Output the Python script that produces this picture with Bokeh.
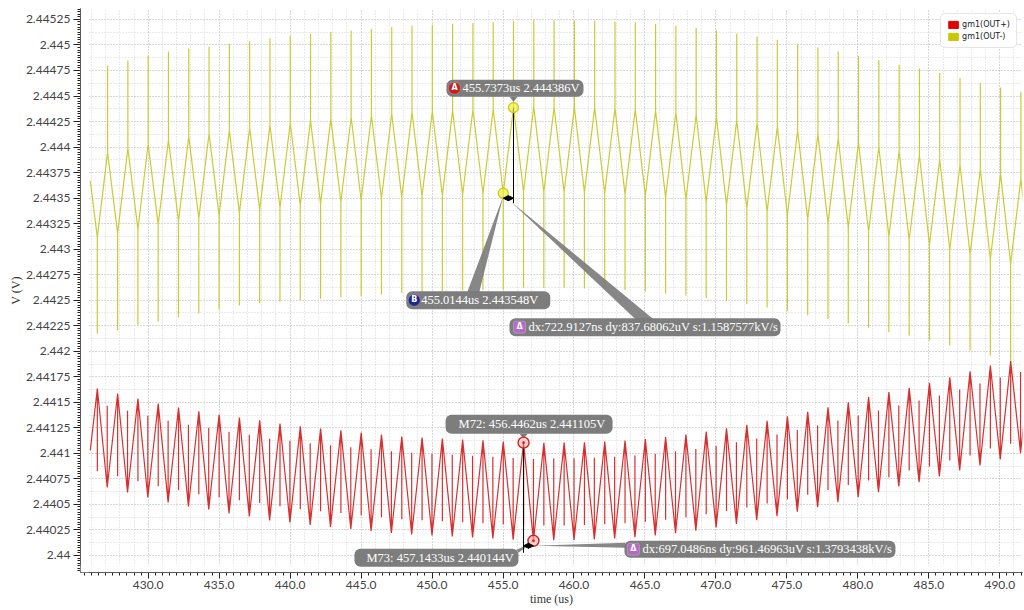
from bokeh.plotting import figure
from bokeh.models import (Range1d, SingleIntervalTicker, Grid, Label, BoxAnnotation,
                          Legend, LegendItem, CustomJSTickFormatter, Arrow, NormalHead)
from bokeh.embed import file_html
from bokeh.resources import INLINE

# ---------------------------------------------------------------- data
BASE_V = 2.44          # levels below are stored in mV above this
PERIOD_US = 1.43       # clock period of the chopper

# cursor readouts
A_T, A_V = 455.7373, 2.444386
B_T, B_V = 455.0144, 2.443548
M72_T, M72_V = 456.4462, 2.441105
M73_T, M73_V = 457.1433, 2.440144

# gm1(OUT-) : first sample, then per clock cycle the low cusp / its glitch tip,
# the high cusp / its glitch tip (mV above 2.44 V)
outn_start = (425.92, 3.67)
outn_low_mv = [3.115, 3.157, 3.198, 3.240, 3.273, 3.302, 3.331, 3.356, 3.385, 3.406,
               3.429, 3.446, 3.462, 3.479, 3.496, 3.510, 3.519, 3.527, 3.535, 3.543,
               3.548, 3.563, 3.560, 3.559, 3.556, 3.549, 3.539, 3.525, 3.507, 3.486,
               3.461, 3.433, 3.402, 3.368, 3.332, 3.294, 3.255, 3.213, 3.171, 3.126,
               3.090, 3.045, 2.997, 2.951, 2.903, 2.859, 2.818]
outn_low_tip_mv = [2.175, 2.204, 2.263, 2.292, 2.331, 2.370, 2.409, 2.449, 2.470, 2.485,
                   2.500, 2.515, 2.528, 2.541, 2.556, 2.570, 2.579, 2.587, 2.595, 2.603,
                   2.608, 2.623, 2.620, 2.619, 2.616, 2.609, 2.599, 2.585, 2.567, 2.546,
                   2.521, 2.493, 2.462, 2.428, 2.392, 2.354, 2.315, 2.273, 2.231, 2.186,
                   2.155, 2.106, 2.057, 2.008, 1.959, 1.893, 1.850]
outn_high_mv = [3.945, 3.987, 4.028, 4.070, 4.103, 4.132, 4.161, 4.186, 4.215, 4.236,
                4.259, 4.276, 4.292, 4.309, 4.326, 4.340, 4.349, 4.357, 4.365, 4.373,
                4.386, 4.393, 4.390, 4.389, 4.386, 4.379, 4.369, 4.355, 4.337, 4.316,
                4.291, 4.263, 4.232, 4.198, 4.162, 4.124, 4.085, 4.043, 4.001, 3.956,
                3.920, 3.875, 3.827, 3.781, 3.733, 3.689]
outn_high_tip_mv = [4.799, 4.848, 4.897, 4.936, 4.966, 4.982, 5.011, 5.036, 5.065, 5.086,
                    5.109, 5.126, 5.142, 5.159, 5.176, 5.190, 5.199, 5.207, 5.215, 5.223,
                    5.236, 5.243, 5.240, 5.239, 5.236, 5.229, 5.219, 5.205, 5.187, 5.166,
                    5.141, 5.113, 5.082, 5.048, 5.012, 4.974, 4.935, 4.893, 4.851, 4.806,
                    4.770, 4.725, 4.677, 4.631, 4.583, 4.539]

# gm1(OUT+) : peak / glitch tip, trough / glitch tip (mV above 2.44 V)
outp_start = (425.92, 1.03)
outp_peak_mv = [1.636, 1.587, 1.538, 1.489, 1.450, 1.411, 1.381, 1.352, 1.323, 1.293,
                1.264, 1.244, 1.225, 1.205, 1.185, 1.166, 1.156, 1.146, 1.136, 1.127,
                1.117, 1.105, 1.104, 1.105, 1.108, 1.115, 1.126, 1.141, 1.161, 1.185,
                1.213, 1.245, 1.281, 1.320, 1.362, 1.406, 1.452, 1.500, 1.551, 1.600,
                1.643, 1.692, 1.746, 1.805, 1.861, 1.903, 1.949]
outp_peak_tip_mv = [0.826, 0.777, 0.728, 0.679, 0.640, 0.601, 0.571, 0.542, 0.513, 0.483,
                    0.454, 0.434, 0.415, 0.395, 0.375, 0.356, 0.346, 0.336, 0.326, 0.317,
                    0.307, 0.295, 0.294, 0.295, 0.298, 0.305, 0.316, 0.331, 0.351, 0.375,
                    0.403, 0.435, 0.471, 0.510, 0.552, 0.596, 0.642, 0.690, 0.735, 0.767,
                    0.833, 0.872, 0.931, 0.980, 1.048, 1.094, 1.139]
outp_trough_mv = [0.666, 0.617, 0.568, 0.519, 0.480, 0.451, 0.412, 0.382, 0.343, 0.324,
                  0.299, 0.280, 0.260, 0.240, 0.221, 0.206, 0.196, 0.186, 0.177, 0.167,
                  0.156, 0.144, 0.150, 0.152, 0.157, 0.166, 0.179, 0.196, 0.218, 0.244,
                  0.274, 0.308, 0.346, 0.386, 0.429, 0.474, 0.521, 0.571, 0.620, 0.676,
                  0.718, 0.774, 0.833, 0.882, 0.940, 1.002]
outp_trough_tip_mv = [1.466, 1.417, 1.368, 1.319, 1.280, 1.251, 1.212, 1.182, 1.143, 1.124,
                      1.099, 1.080, 1.060, 1.040, 1.021, 1.006, 0.996, 0.986, 0.977, 0.967,
                      0.956, 0.944, 0.950, 0.952, 0.957, 0.966, 0.979, 0.996, 1.018, 1.044,
                      1.074, 1.108, 1.146, 1.186, 1.229, 1.274, 1.321, 1.371, 1.420, 1.469,
                      1.518, 1.567, 1.626, 1.685, 1.744, 1.796]

X_TICK_US = 5.0
Y_TICK_V = 0.00025

# ---------------------------------------------------------------- sampling instants
outn_low_t = [B_T + PERIOD_US * k for k in range(-20, 27)]
outn_high_t = [A_T + PERIOD_US * k for k in range(-20, 26)]
outp_peak_t = [M72_T + PERIOD_US * k for k in range(-21, 26)]
outp_trough_t = [M73_T + PERIOD_US * k for k in range(-21, 25)]


def to_volts(mv):
    return BASE_V + mv / 1000.0


def trace(start, t1, v1, tip1, t2, v2, tip2):
    """Cusp, glitch and return for every half cycle, alternating phases."""
    xs, ys = [start[0]], [to_volts(start[1])]
    for i in range(len(v1)):
        xs += [t1[i]] * 3
        ys += [to_volts(v1[i]), to_volts(tip1[i]), to_volts(v1[i])]
        if i < len(v2):
            xs += [t2[i]] * 3
            ys += [to_volts(v2[i]), to_volts(tip2[i]), to_volts(v2[i])]
    return xs, ys


outn_x, outn_y = trace(outn_start, outn_low_t, outn_low_mv, outn_low_tip_mv,
                       outn_high_t, outn_high_mv, outn_high_tip_mv)
outp_x, outp_y = trace(outp_start, outp_peak_t, outp_peak_mv, outp_peak_tip_mv,
                       outp_trough_t, outp_trough_mv, outp_trough_tip_mv)

# ---------------------------------------------------------------- figure
W, H = 1024, 610
FL, FR, FT, FB = 80, 1022, 8, 572
X0, X1 = 425.230, 491.600
Y0, Y1 = 2.4398335, 2.445357

p = figure(width=W, height=H, output_backend="svg", toolbar_location=None,
           x_range=Range1d(X0, X1), y_range=Range1d(Y0, Y1),
           min_border_left=FL, min_border_right=W - FR,
           min_border_top=FT, min_border_bottom=H - FB,
           background_fill_color="white", border_fill_color="white")
p.outline_line_color = None


def ux(px):
    return px * (X1 - X0) / (FR - FL)


def uy(px):
    return px * (Y1 - Y0) / (FB - FT)


# axes
p.xaxis.ticker = SingleIntervalTicker(interval=X_TICK_US, num_minor_ticks=10)
p.yaxis.ticker = SingleIntervalTicker(interval=Y_TICK_V, num_minor_ticks=10)
p.xaxis.formatter = CustomJSTickFormatter(code="return tick.toFixed(1);")
p.yaxis.formatter = CustomJSTickFormatter(
    code="return (Math.round(tick * 1e5) / 1e5).toString();")
for ax in (p.xaxis[0], p.yaxis[0]):
    ax.axis_line_color = "#222222"
    ax.major_tick_line_color = "#222222"
    ax.minor_tick_line_color = "#222222"
    ax.major_tick_in = 0
    ax.minor_tick_in = 0
    ax.minor_tick_out = 3
    ax.major_label_text_font = "Lato"
    ax.major_label_text_font_size = "12px"
    ax.major_label_text_color = "#444444"
    ax.axis_label_text_font = "Liberation Serif"
    ax.axis_label_text_font_size = "12px"
    ax.axis_label_text_font_style = "normal"
    ax.axis_label_text_color = "#333333"
p.xaxis.major_tick_out = 6
p.yaxis.major_tick_out = 7
p.xaxis.major_label_standoff = 2
p.yaxis.major_label_standoff = 3
p.xaxis.axis_label_standoff = 0
p.yaxis.axis_label_standoff = 0
p.xaxis.axis_label = "time (us)"
p.yaxis.axis_label = "V (V)"

# dotted grid: fine every 1 us / 0.125 mV, stronger at the labelled ticks
for g in (p.xgrid[0], p.ygrid[0]):
    g.grid_line_color = "#b8b8b8"
    g.grid_line_dash = "1 2"
    g.grid_line_width = 1
p.add_layout(Grid(dimension=0, ticker=SingleIntervalTicker(interval=1.0),
                  grid_line_color="#d4d4d4", grid_line_dash="1 2"))
p.add_layout(Grid(dimension=1, ticker=SingleIntervalTicker(interval=Y_TICK_V / 2),
                  grid_line_color="#d4d4d4", grid_line_dash="1 2"))

# waveforms
p.line(outn_x, outn_y, line_color="#c8c82a", line_width=1.2, line_alpha=0.95)
p.line(outp_x, outp_y, line_color="#d42626", line_width=1.2, line_alpha=0.95)

# blank strip between the axes and the plotting area
p.add_layout(BoxAnnotation(right=X0 + ux(8), fill_color="white", fill_alpha=1,
                           line_color=None))
p.add_layout(BoxAnnotation(top=Y0 + uy(7), fill_color="white", fill_alpha=1,
                           line_color=None))

BOX_GRAY = "#767676"
TXT_FONT = "Liberation Serif"


def box(l, r, t, b, color=BOX_GRAY, radius=6, alpha=0.95, line=None):
    p.add_layout(BoxAnnotation(left=l, right=r, top=t, bottom=b, fill_color=color,
                               fill_alpha=alpha, line_color=line,
                               border_radius=int(radius)))


def text(x, y, s, size="12.5px", align="left", color="white", font=TXT_FONT,
         style="normal"):
    p.add_layout(Label(x=x, y=y, text=s, text_align=align, text_baseline="middle",
                       text_color=color, text_font=font, text_font_size=size,
                       text_font_style=style))


def badge(cx, cy, letter, color, square=False):
    r = 6
    box(cx - ux(r), cx + ux(r), cy + uy(r), cy - uy(r), color=color,
        radius=2 if square else r, alpha=1, line="#e8d8ee" if square else "#f4c8c8")
    text(cx, cy + uy(0.5), letter, size="8px", align="center", font="DejaVu Sans",
         style="bold")


# cursor A / B
p.patches([[B_T, B_T - ux(36), B_T - ux(24)],
           [A_T - ux(3), A_T + ux(122), A_T + ux(140)]],
          [[B_V - uy(3), B_V - uy(99), B_V - uy(99)],
           [B_V - uy(8), B_V - uy(126), B_V - uy(126)]],
          fill_color="#7a7a7a", fill_alpha=0.9, line_color=None)
p.segment(x0=[A_T], y0=[A_V], x1=[A_T], y1=[B_V - uy(10)], line_color="black",
          line_width=1)
p.add_layout(Arrow(x_start=B_T, y_start=B_V - uy(5), x_end=A_T, y_end=B_V - uy(5),
                   line_color="black", line_width=1.5,
                   start=NormalHead(size=5, fill_color="black", line_color="black"),
                   end=NormalHead(size=5, fill_color="black", line_color="black")))
p.patches([[A_T - ux(4), A_T + ux(4), A_T]], [[A_V + uy(11), A_V + uy(11), A_V + uy(6)]],
          fill_color=BOX_GRAY, fill_alpha=0.95, line_color=None)
p.scatter([A_T, B_T], [A_V, B_V], marker="circle", size=10, fill_color="#eeee44",
          fill_alpha=0.7, line_color="#c8c800", line_width=1.2)

box(A_T - ux(67), A_T + ux(70), A_V + uy(28), A_V + uy(11))
badge(A_T - ux(59), A_V + uy(19.5), "A", "#c41e1e")
text(A_T - ux(51), A_V + uy(19.5), "455.7373us 2.444386V")

box(B_T - ux(97), B_T + ux(47), B_V - uy(98), B_V - uy(116))
badge(B_T - ux(89), B_V - uy(107), "B", "#1c2a8c")
text(B_T - ux(82), B_V - uy(107), "455.0144us 2.443548V")

box(A_T - ux(4), A_T + ux(267), B_V - uy(125), B_V - uy(143))
badge(A_T + ux(6), B_V - uy(134), "Δ", "#b36cc6", square=True)
text(A_T + ux(15), B_V - uy(134), "dx:722.9127ns dy:837.68062uV s:1.1587577kV/s")

# markers M72 / M73
p.patches([[M73_T - ux(3), M73_T - ux(17), M73_T - ux(15)],
           [M73_T + ux(1), M73_T + ux(92), M73_T + ux(92)]],
          [[M73_V - uy(3), M73_V - uy(9), M73_V - uy(12)],
           [M73_V - uy(5), M73_V - uy(2), M73_V - uy(7)]],
          fill_color="#7a7a7a", fill_alpha=0.9, line_color=None)
p.segment(x0=[M72_T], y0=[M72_V], x1=[M72_T], y1=[M73_V - uy(12)], line_color="black",
          line_width=1)
p.add_layout(Arrow(x_start=M72_T, y_start=M73_V - uy(5), x_end=M73_T,
                   y_end=M73_V - uy(5), line_color="black", line_width=1.5,
                   start=NormalHead(size=5, fill_color="black", line_color="black"),
                   end=NormalHead(size=5, fill_color="black", line_color="black")))
p.patches([[M72_T - ux(4), M72_T + ux(4), M72_T]],
          [[M72_V + uy(9), M72_V + uy(9), M72_V + uy(4)]],
          fill_color=BOX_GRAY, fill_alpha=0.95, line_color=None)
p.scatter([M72_T, M73_T], [M72_V, M73_V], marker="circle_dot", size=11,
          fill_color="#f4b0b0", fill_alpha=0.6, line_color="#d42020", line_width=1.4)

box(M72_T - ux(78), M72_T + ux(89), M72_V + uy(28), M72_V + uy(9))
text(M72_T - ux(65), M72_V + uy(18.5), "M72: 456.4462us 2.441105V")

box(M73_T - ux(179), M73_T - ux(15), M73_V - uy(8), M73_V - uy(26))
text(M73_T - ux(167), M73_V - uy(17), "M73: 457.1433us 2.440144V")

box(M73_T + ux(91), M73_T + ux(362), M73_V, M73_V - uy(17))
badge(M73_T + ux(100), M73_V - uy(8.5), "Δ", "#b36cc6", square=True)
text(M73_T + ux(109), M73_V - uy(8.5), "dx:697.0486ns dy:961.46963uV s:1.3793438kV/s")

# legend swatches: one quad each, parked left of the visible range
sw_p = p.quad(left=[X0 - 30], right=[X0 - 29], top=[Y1], bottom=[Y0],
              fill_color="#e00000", line_color="#e00000")
sw_n = p.quad(left=[X0 - 30], right=[X0 - 29], top=[Y1], bottom=[Y0],
              fill_color="#c8c800", line_color="#c8c800")
legend = Legend(items=[LegendItem(label="gm1(OUT+)", renderers=[sw_p]),
                       LegendItem(label="gm1(OUT-)", renderers=[sw_n])],
                location="top_right", margin=5, padding=6, spacing=3,
                glyph_width=12, glyph_height=9, label_height=9, label_standoff=3,
                label_text_font="DejaVu Sans", label_text_font_size="8px",
                label_text_color="#222222", border_line_color="#cccccc",
                background_fill_color="white", background_fill_alpha=1)
if "border_radius" in Legend.properties():
    legend.border_radius = 5
p.add_layout(legend)

open("out.html", "w").write(file_html(p, INLINE))
